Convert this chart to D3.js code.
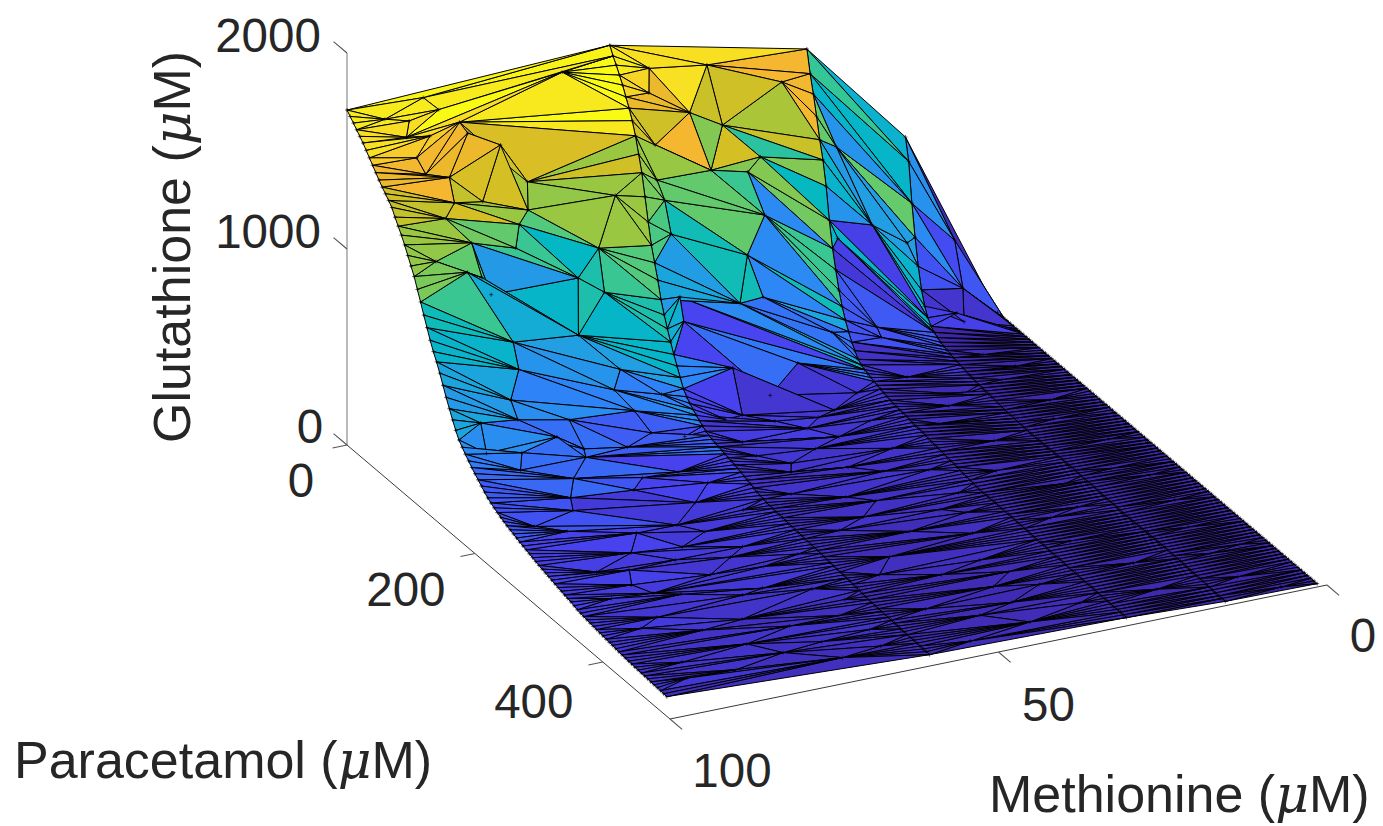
<!DOCTYPE html>
<html>
<head>
<meta charset="utf-8">
<title>Glutathione surface</title>
<script src="https://cdn.jsdelivr.net/npm/d3@7"></script>
<style>
  html, body { margin: 0; background: #fff; }
  svg { display: block; }
  text { font-family: "Liberation Sans", Arial, sans-serif; fill: #262626; }
  .mu { font-family: "DejaVu Serif", serif; font-style: italic; }
</style>
</head>
<body>
<div id="chart"></div>
<script>
// dense sweep of paracetamol, uM
const paracetamol = [
  0,5,10,15,20,25,30,35,40,45,50,55,60,65,70,75,80,85,90,95,
  100,105,110,115,120,125,130,135,140,145,150,155,160,165,170,175,180,185,190,195,
  200,205,210,215,220,225,230,235,240,245,250,255,260,265,270,275,280,285,290,295,
  300,305,310,315,320,325,330,335,340,345,350,355,360,365,370,375,380,385,390,395,
  400,405,410,415,420,425,430,435,440,445,450,455,460,465,470,475,480,485,490,495,500
];
const methionineSweeps = [100, 60, 30, 15, 1];
const gshMet100 = [
  1709,1690,1670,1650,1630,1610,1586,1562,1538,1514,1490,1468,1448,1428,1406,1370,1338,1306,1270,1230,
  1190,1150,1098,1048,995,945,894,850,812,768,720,672,628,585,545,510,487,465,445,425,
  407,390,372,355,339,327,316,306,296,288,280,273,266,259,252,246,240,234,228,222,
  216,211,206,201,196,191,186,181,176,172,168,162,156,152,149,146,143,140,138,135,
  133,130,128,126,123,121,119,117,115,114,112,111,110,109,108,106,105,104,103,101,100
];
const gshMet60 = [
  1766,1725,1692,1655,1618,1572,1528,1478,1415,1335,1254,1145,1030,925,850,775,690,625,568,515,
  465,420,375,332,305,285,268,252,238,225,212,204,198,192,188,183,179,174,170,165,
  160,155,148,142,136,130,124,119,115,111,109,108,106,105,103,102,100,99,97,96,
  95,93,92,90,89,88,86,84,82,80,78,76,75,73,71,70,68,66,64,62,
  60,58,57,55,54,53,52,51,50,49,48,47,47,46,45,45,44,43,42,42,41
];
const gshMet30 = [
  1542,1430,1340,1240,1134,1045,925,765,635,540,450,380,325,280,240,210,180,165,155,148,
  142,136,130,125,120,115,110,107,105,102,100,97,95,92,90,88,85,83,80,78,
  75,73,70,68,65,63,60,58,55,53,50,48,45,43,41,40,40,41,41,42,
  41,41,40,40,39,39,38,38,37,37,36,36,35,35,34,34,33,33,32,32,
  31,31,30,30,29,29,28,28,28,27,27,27,26,26,26,26,25,25,25,25,25
];
const gshMet15 = [
  990,880,680,520,385,280,210,165,135,118,105,95,88,82,77,72,68,64,60,56,
  53,50,47,44,42,40,38,36,34,32,30,28,27,26,25,23,22,21,20,19,
  20,20,21,21,22,22,23,23,24,24,24,24,24,23,23,22,22,21,21,20,
  19,18,18,17,16,16,15,15,14,14,14,14,15,15,16,16,17,17,18,18,
  18,18,18,17,17,16,16,15,15,14,13,12,11,10,9,9,8,7,6,6,5
];
const gshMet1 = [
  0,0,0,0,0,0,0,0,0,0,0,0,0,0,0,0,0,0,0,0,
  0,0,0,0,0,0,0,0,0,0,0,0,0,0,0,0,0,0,0,0,
  0,0,0,0,0,0,0,0,0,0,0,0,0,0,0,0,0,0,0,0,
  0,0,0,0,0,0,0,0,0,0,0,0,0,0,0,0,0,0,0,0,
  0,0,0,0,0,0,0,0,0,0,0,0,0,0,0,0,0,0,0,0,0
];
const gshSweeps = [gshMet100, gshMet60, gshMet30, gshMet15, gshMet1];

// scattered samples between the sweeps: methionine, paracetamol, glutathione
const interiorSamples = [
  [69,18,1740],[88.6,2,1700],[87,10,1650],[86,32,1640],[95,8,1650],[92,15,1640],[90.5,32,1600],[86,45,1620],
  [93,21,1580],[93,37,1520],[82,55,1560],[92,41,1440],[89,47,1420],[77.5,51,1330],[89.5,60,1330],[85,58,1300],
  [78.4,61,1220],[92,72,1300],[81,74,1200],[89.5,87,1200],[82,79,1100],[96,98,1180],[92,106,1120],[89,98,1050],
  [87.5,97,950],[86,116,750],[73,84,900],[69,75,1000],[65,60,1200],[75,105,680],[69,84,800],
  [55,10,1642],[56,20,1551],[46,8,1592],[50,22,1415],[45,22,1317],[48,35,1143],[56.5,35,1330],[35,12,1441],
  [42.5,36,1100],[40,30,1143],[57.5,48,1194],[57,55,1107],[57,65,962],[57.6,85,701],[58,95,606],[43,65,545],
  [47,70,554],[27,15,1064],[22.5,25,662],[29,38,674],[16.5,18,510],[24.7,55,239],[25,65,216],[41.6,105,310],
  [52,110,370],[10.6,35,159],[33,70,311],[41,47,900],[45,61,762],
  [87,135,670],[89,143,550],[89,154,480],[96,168,550],[70,119,510],[72,130,450],[64,122,350],[70,141,360],
  [81,152,420],[85,174,420],[91,181,400],[92,189,340],[96,177,420],[81,178,300],[73,161,250],[68,147,250],
  [63,148,200],[55,129,180],[46,107,180],[33,109,110],[41,131,100],[44,144,100],[41,163,90],[55,156,140],
  [51,191,100],[52,201,90],[44,208,80],[40,222,70],[68,190,170],[77,212,200],[87,216,240],[88,230,220],
  [69,226,120],[74.5,254,120],[95,242,220],[48,246,60],[48.5,278,50],[69,300,100],[69,333,90],[77,288,120],
  [85,290,150],[92,308,150],[77,332,100],[72,362,80],[79,402,80],[90,382,110],[87,345,110],[89,332,130],
  [51,345,50],[63,398,60],[64,447,50],[78.5,461,70],[87,475,80],[93,452,95],[71.5,482,55],
  [33,268,40],[37,331,35],[40,373,35],[42,415,30],[42.6,478,28],[33.5,463,22],[42,444,30],[18,280,18],
  [6.6,335,8],[10,468,8],[21,418,15],[7.5,149,10],[11,110,30],[18,120,30],
  [80,165,300],[85,200,280],[75,205,230],[66,215,170],[92,262,230],[82,268,170],[72,272,120],[64,250,115],
  [88,318,160],[80,308,130],[72,312,100],[63,325,90],[94,352,150],[84,358,120],[76,372,100],[66,378,80],
  [94,398,125],[86,412,100],[74,425,75],[66,420,60],[95,480,105],[82,440,80],[72,455,65],[65,475,50],
  [52,125,170],[48,135,140],[38,125,100],[35,150,95],[55,178,130],[46,178,105],[36,195,85],[34,232,65],
  [55,232,85],[45,262,65],[38,290,50],[54,298,75],[45,315,55],[35,300,42],[55,370,55],[47,385,42],
  [38,398,32],[54,432,45],[48,455,35],[36,425,28],[53,492,40],
  [24,95,90],[22,140,55],[26,165,60],[21,200,35],[25,245,35],[20,320,22],[26,370,28],[22,465,18],[25,330,30],
  [10,70,40],[7,90,15],[10,180,15],[6,225,10],[10,270,12],[6,290,8],[9,380,10],[5,420,6],[10,425,8],[6,495,3],
  [8,5,430],[8,18,220],[9,30,90]
];

// colour of a facet read along a line of sight: methionine, paracetamol, glutathione, colour value
const facetReadings = [
  [74.7,41.6,1600,1770],[79.9,1.1,1600,1770],[76.5,92,1600,1600],[74.5,102.7,1600,1360],[79.5,127,1600,1200],
  [90.9,125,1600,1450],[99.6,114.5,1600,1450],[87,90,1600,1350],[51.9,5.8,1600,1650],[41.5,18.4,1600,1450],
  [36.3,49.7,1600,1450],[45.9,63,1600,1330],[52.8,40.3,1600,1600],[58.1,106,1600,1450],[55.3,144.6,1600,1340],
  [46.8,110,1600,1060],[41.8,110,1600,1240],[50,163,1600,850],[32.5,151,1600,650],[40.8,204.5,1600,450],
  [45.3,224.6,1600,480],[50.6,211.6,1600,720],[83.4,167,1600,1180],[90.7,155,1600,1340],
  [97.6,156,1600,1340],[62.7,231,1600,1060],
  [61.5,36,1000,1200],[80,1.7,1000,1240],[80,19.5,1000,1060],[82.8,57.4,1000,1200],[72.5,45.8,1000,750],
  [81.6,108,1000,480],[69.2,114.8,1000,900],[78.1,190.5,1000,700],[70.7,68.5,1000,700],[93.5,104.6,1000,950],
  [95.6,147,1000,900],[88.8,171,1000,600],[52.9,57.3,1000,1060],[47.6,118,1000,400],[33.7,79,1000,450],
  [26.6,146,1000,400],[24,177,1000,380],[28.7,215,1000,200],[38.6,166,1000,160],[35.3,149,1000,160],
  [60.6,136,1000,500],[65.3,222,1000,180],[59.4,249,1000,400],[74.8,199,1000,680],[67.8,179,1000,480],[51.6,232,1000,380],
  [49,27,1000,1060],[40.7,83.7,1000,400],[52.2,92,1000,1060],[49,183,1000,400],
  [55,89,500,300],[47.3,135.7,500,330],[14.7,105.7,500,230],[20.2,107,1000,400],[21.7,130.7,1000,40]
];

const gshTicks = [0, 1000, 2000];
const paracetamolTicks = [0, 200, 400];
const methionineTicks = [0, 50, 100];
const colourStops = ["#3e26a8","#4743f0","#2f82f8","#1fa3df","#03b8c4","#35c696","#63ca6c","#a3c63c","#d6bf24","#f5b730","#f8dc24","#f9fb15"];
const colourPos = [0,0.1,0.2,0.3,0.4,0.5,0.6,0.69,0.76,0.82,0.89,0.98];

const W = 1383, H = 826;

// oblique axes, one pair of scales per data direction
const paraX = d3.scaleLinear().domain([0, 505]).range([0, 323]);
const paraY = d3.scaleLinear().domain([0, 505]).range([0, 274]);
const metX = d3.scaleLinear().domain([100, 0]).range([0, 657]);
const metY = d3.scaleLinear().domain([100, 0]).range([0, -134]);
const gshY = d3.scaleLinear().domain([0, 2000]).range([0, -392]);
const origin = [347, 445];

const project = (m, p, z) => [
  origin[0] + paraX(p) + metX(m),
  origin[1] + paraY(p) + metY(m) + gshY(z)
];

const colour = d3.scaleLinear()
  .domain(colourPos.map(t => t * 1770))
  .range(colourStops)
  .clamp(true);

const verts = [];
methionineSweeps.forEach((m, j) => {
  paracetamol.forEach((p, i) => verts.push({ m, p, z: gshSweeps[j][i] }));
});
interiorSamples.forEach(([m, p, z]) => verts.push({ m, p, z }));

const delaunay = d3.Delaunay.from(verts, d => d.m, d => d.p);
const faces = [];
for (let t = 0; t < delaunay.triangles.length; t += 3) {
  const ids = [delaunay.triangles[t], delaunay.triangles[t + 1], delaunay.triangles[t + 2]];
  const vs = ids.map(i => verts[i]);
  const lead = verts[d3.max(ids)]; // flat colour taken from one corner
  const depth = d3.mean(vs, v => paraY(v.p) + metY(v.m));
  faces.push({ pts: vs.map(v => project(v.m, v.p, v.z)), value: lead.z, depth });
}
faces.sort((a, b) => a.depth - b.depth);

facetReadings.forEach(([m, p, z, value]) => {
  const at = project(m, p, z);
  for (let i = faces.length - 1; i >= 0; i--) {
    if (d3.polygonContains(faces[i].pts, at)) { faces[i].value = value; break; }
  }
});

const svg = d3.select("#chart").append("svg").attr("width", W).attr("height", H);

// axes
const axes = svg.append("g").attr("fill", "none");
const seg = (a, b, col, w) => axes.append("line")
  .attr("x1", a[0]).attr("y1", a[1]).attr("x2", b[0]).attr("y2", b[1])
  .attr("stroke", col).attr("stroke-width", w);

seg(project(100, 0, 0), project(100, 0, 2000), "#8c8c8c", 1.2);
seg(project(100, 0, 0), project(100, 505, 0), "#3a3a3a", 1);
seg(project(100, 505, 0), project(0, 505, 0), "#3a3a3a", 1);
gshTicks.forEach(z => seg(project(100, 0, z), project(100, -21, z), "#555", 1.1));
paracetamolTicks.forEach(p => seg(project(100, p, 0), project(102.2, p, 0), "#555", 1.1));
methionineTicks.forEach(m => seg(project(m, 505, 0), project(m, 524, 0), "#555", 1.1));

// surface
svg.append("g").selectAll("path").data(faces).join("path")
  .attr("d", d => "M" + d.pts.join("L") + "Z")
  .attr("fill", d => colour(d.value))
  .attr("stroke", "#000")
  .attr("stroke-width", 1)
  .attr("stroke-linejoin", "round");

// small vertex crosses
const cross = verts.map(v => {
  const [x, y] = project(v.m, v.p, v.z);
  return `M${x - 2},${y}H${x + 2}M${x},${y - 2}V${y + 2}`;
}).join("");
svg.append("path").attr("d", cross).attr("stroke", "#000").attr("stroke-width", 0.6).attr("fill", "none");

// tick labels
const tickFont = 47.5;
const addLabel = (x, y, s) => svg.append("text").attr("x", x).attr("y", y)
  .attr("text-anchor", "middle").attr("font-size", tickFont).text(s);

gshTicks.forEach(z => {
  const [x, y] = project(100, 0, z);
  addLabel(x - (z ? 79 : 37), y + (z ? -1 : -2), z);
});
paracetamolTicks.forEach(p => {
  const [x, y] = project(100, p, 0);
  addLabel(x + (p ? -69 : -46), y + (p === 400 ? 56 : p ? 52 : 52), p);
});
methionineTicks.forEach(m => {
  const [x, y] = project(m, 505, 0);
  addLabel(x + (m === 100 ? 62 : m === 50 ? 50 : 36), y + (m === 100 ? 68 : m === 50 ? 69 : 67), m);
});

// axis titles
const axisTitle = (g, name) => {
  const t = g.append("text").attr("font-size", 52);
  t.append("tspan").text(name + " (");
  t.append("tspan").attr("class", "mu").text("\u03bc");
  t.append("tspan").text("M)");
  return t;
};
axisTitle(svg.append("g").attr("transform", "translate(190,443) rotate(-90)"), "Glutathione");
axisTitle(svg.append("g").attr("transform", "translate(14,778)"), "Paracetamol");
axisTitle(svg.append("g").attr("transform", "translate(989,812)"), "Methionine");
</script>
</body>
</html>
